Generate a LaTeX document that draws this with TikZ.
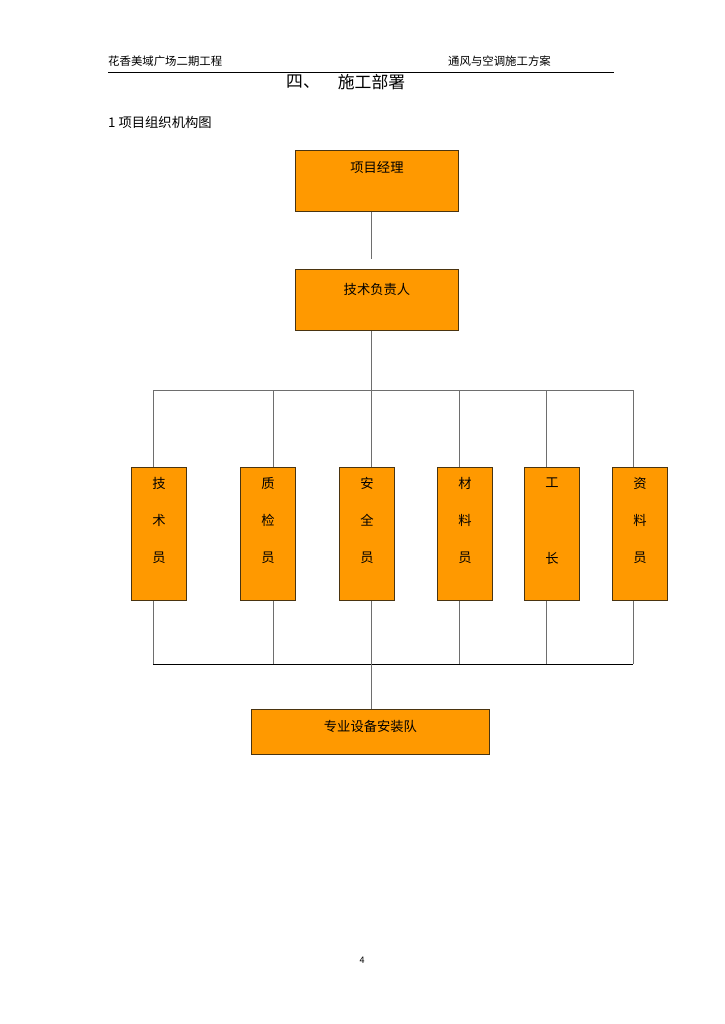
\documentclass[tikz,border=0pt]{standalone}
\usepackage{fontspec}
\setmainfont{Noto Sans CJK SC}
\definecolor{boxfill}{HTML}{FF9900}
\definecolor{boxedge}{HTML}{4A3410}
\definecolor{lineg}{HTML}{6E6E6E}
\tikzset{
  box/.style={draw=boxedge, fill=boxfill, line width=0.9pt, anchor=north west, inner sep=0pt},
  conn/.style={draw=lineg, line width=0.9pt},
  bt/.style={font=\fontsize{13.3}{14}\selectfont, anchor=center, inner sep=0pt},
  hd/.style={font=\fontsize{11.4}{12}\selectfont, anchor=west, inner sep=0pt},
}
\begin{document}
\begin{tikzpicture}[x=1pt,y=-1pt]
\useasboundingbox (0,0) rectangle (724,1024);
% header
\node[hd] (hl) at (108,61) {花香美域广场二期工程};
\node[hd] (hr) at (448,61) {通风与空调施工方案};
\coordinate (rl) at (108,72);
\coordinate (rr) at (614,72);
\draw[line width=0.8pt] (rl) -- (rr);
\node[font=\fontsize{16.8}{18}\selectfont, inner sep=0pt] (t1) at (303,82) {四、};
\node[font=\fontsize{16.8}{18}\selectfont, inner sep=0pt] (t2) at (371.5,82) {施工部署};
\node[font=\fontsize{13.3}{14}\selectfont, anchor=west, inner sep=0pt] (sub) at (108,122) {1 项目组织机构图};
% main boxes
\node[box, minimum width=163pt, minimum height=61pt,
  label={[bt, yshift=-17pt]north:项目经理}] (pm) at (295,150) {};
\node[box, minimum width=163pt, minimum height=61pt,
  label={[bt, yshift=-20pt]north:技术负责人}] (tl) at (295,269) {};
% column boxes
\tikzset{col/.style={box, minimum width=55pt, minimum height=133pt}}
\node[col, label={[bt,yshift=-16pt]north:技}, label={[bt,yshift=-53pt]north:术}, label={[bt,yshift=-91pt]north:员}] (c1) at (131,467) {};
\node[col, label={[bt,yshift=-16pt]north:质}, label={[bt,yshift=-53pt]north:检}, label={[bt,yshift=-91pt]north:员}] (c2) at (240,467) {};
\node[col, label={[bt,yshift=-16pt]north:安}, label={[bt,yshift=-53pt]north:全}, label={[bt,yshift=-91pt]north:员}] (c3) at (339,467) {};
\node[col, label={[bt,yshift=-16pt]north:材}, label={[bt,yshift=-53pt]north:料}, label={[bt,yshift=-91pt]north:员}] (c4) at (437,467) {};
\node[col, label={[bt,yshift=-16pt]north:工}, label={[bt,yshift=-91pt]north:长}] (c5) at (524,467) {};
\node[col, label={[bt,yshift=-16pt]north:资}, label={[bt,yshift=-53pt]north:料}, label={[bt,yshift=-91pt]north:员}] (c6) at (612,467) {};
% bottom box
\node[box, minimum width=238pt, minimum height=45pt,
  label={[bt, yshift=-17pt]north:专业设备安装队}] (team) at (251,709) {};
% coordinates of bars
\foreach \i/\x in {1/153,2/273,3/371,4/459,5/546,6/633}{
  \coordinate (tb\i) at (\x,390);
  \coordinate (bb\i) at (\x,664);
}
\coordinate (gapEnd) at (371,259);
% connectors
\draw[conn] (tb3 |- pm.south) -- (gapEnd);
\draw[conn] (tb3 |- tl.south) -- (tb3);
\draw[conn] (tb1) -- (tb6);
\foreach \i in {1,...,6}{
  \draw[conn] (tb\i) -- (tb\i |- c\i.north);
  \draw[conn] (tb\i |- c\i.south) -- (bb\i);
}
\draw[conn, draw=black] (bb1) -- (bb6);
\draw[conn] (bb3) -- (bb3 |- team.north);
% page number
\node[font=\fontsize{9}{10}\selectfont, inner sep=0pt] (pg) at (362,960) {4};
\end{tikzpicture}
\end{document}
